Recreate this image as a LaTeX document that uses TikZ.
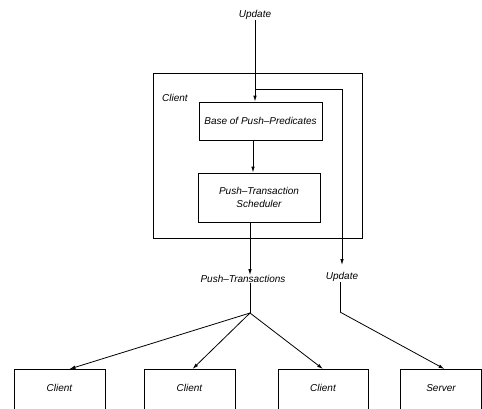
\documentclass[tikz,border=0pt]{standalone}
\usepackage{fontspec}
\setmainfont{Liberation Sans}
\usetikzlibrary{arrows.meta}
\begin{document}
\begin{tikzpicture}[x=1pt,y=-1pt,
  every node/.style={font=\itshape\fontsize{10}{13}\selectfont, inner sep=0pt},
  box/.style={draw, line width=0.8pt, rectangle},
  lbl/.style={},
  conn/.style={line width=0.8pt},
  arr/.style={conn, -{Latex[length=6pt,width=3.5pt]}}]
\clip (0,0) rectangle (482,408);
% outer client box
\node[box, minimum width=209pt, minimum height=165pt] (outer) at (257.5,155.5) {};
\node[lbl] (outerlbl) at (175,98) {Client};
\node[box, minimum width=123pt, minimum height=38pt] (base) at (260.5,121) {Base of Push\textendash Predicates};
\node[box, minimum width=122pt, minimum height=49pt, align=center] (sched) at (259,197.5) {Push\textendash Transaction\\Scheduler};
\node[lbl] (upd) at (255,15) {Update};
\node[lbl] (pt) at (243,279) {Push\textendash Transactions};
\node[lbl] (upd2) at (342,277) {Update};
% bottom boxes
\node[box, anchor=north, minimum width=91pt, minimum height=60pt] (c1) at (59.5,369) {};
\node[box, anchor=north, minimum width=91pt, minimum height=60pt] (c2) at (189.5,369) {};
\node[box, anchor=north, minimum width=90pt, minimum height=60pt] (c3) at (323,369) {};
\node[box, anchor=north, minimum width=81pt, minimum height=60pt] (srv) at (440.5,369) {};
\node[lbl] (c1t) at (59.5,388) {Client};
\node[lbl] (c2t) at (189.5,388) {Client};
\node[lbl] (c3t) at (323,388) {Client};
\node[lbl] (srvt) at (441,388) {Server};
% coordinates
\coordinate (split) at (255,89);
\coordinate (turn) at (342,89);
\coordinate (uend) at (342,265);
\coordinate (junc) at (250,313);
\coordinate (ubend) at (340,312);
% connectors
\draw[arr] (upd.south) -- (upd.south |- base.north);
\draw[conn] (split) -- (turn);
\draw[arr] (turn) -- (uend);
\draw[arr] (base.south -| 253,0) -- (sched.north -| 253,0);
\draw[arr] (sched.south -| 250,0) -- (pt.north -| 250,0);
\draw[conn] (pt.south -| junc) -- (junc);
\draw[arr] (junc) -- ([xshift=10pt]c1.north);
\draw[arr] (junc) -- ([xshift=3pt]c2.north);
\draw[arr] (junc) -- (c3.north);
\draw[conn] (upd2.south -| ubend) -- (ubend);
\draw[arr] (ubend) -- ([xshift=4pt]srv.north);
\end{tikzpicture}
\end{document}
